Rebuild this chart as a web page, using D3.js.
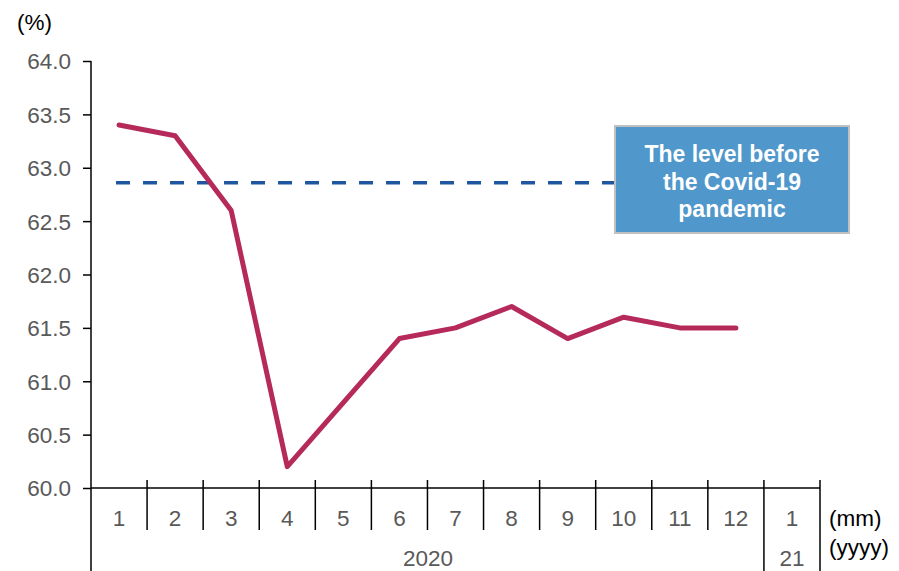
<!DOCTYPE html>
<html>
<head>
<meta charset="utf-8">
<script src="https://cdn.jsdelivr.net/npm/d3@7"></script>
<style>
  html, body { margin: 0; padding: 0; background: #fff; }
  svg { display: block; font-family: "Liberation Sans", Arial, sans-serif; }
</style>
</head>
<body>
<svg id="chart" width="899" height="571"></svg>
<script>
// Monthly values, Jan 2020 – Jan 2021 (no value yet for Jan 2021)
const months = ["1", "2", "3", "4", "5", "6", "7", "8", "9", "10", "11", "12", "1"];
const years = [{ label: "2020", from: 0, to: 12 }, { label: "21", from: 12, to: 13 }];
const rate = [63.4, 63.3, 62.6, 60.2, 60.8, 61.4, 61.5, 61.7, 61.4, 61.6, 61.5, 61.5, null];
const preCovidLevel = 62.86;
const yTicks = [60.0, 60.5, 61.0, 61.5, 62.0, 62.5, 63.0, 63.5, 64.0];
const noteLines = ["The level before", "the Covid-19", "pandemic"];

(function draw() {
  const svg = d3.select("#chart");
  const plotL = 91, plotR = 820, plotT = 61, plotB = 488;
  const tickGray = "#595959";
  const fs = "22.5px";

  const x = d3.scaleBand().domain(d3.range(months.length)).range([plotL, plotR]).paddingInner(0).paddingOuter(0);
  const y = d3.scaleLinear().domain([60, 64]).range([plotB, plotT]);

  // Y axis
  const yAxis = d3.axisLeft(y).tickValues(yTicks).tickFormat(d3.format(".1f")).tickSize(8).tickPadding(12);
  const gy = svg.append("g").attr("transform", `translate(${plotL},0)`).call(yAxis);
  gy.select(".domain").remove();
  gy.selectAll(".tick line").attr("stroke", "#000").attr("stroke-width", 1.5);
  gy.selectAll(".tick text").attr("fill", tickGray).style("font-size", fs)
    .style("font-family", "'Liberation Sans', Arial, sans-serif").attr("dy", "0.35em");
  svg.append("line").attr("x1", plotL).attr("x2", plotL).attr("y1", plotT).attr("y2", 571)
    .attr("stroke", "#000").attr("stroke-width", 1.5);

  svg.append("text").attr("x", 17).attr("y", 30).text("(%)")
    .style("font-size", fs).attr("fill", "#000");

  // X axis baseline and category separators
  svg.append("line").attr("x1", plotL).attr("x2", plotR).attr("y1", plotB).attr("y2", plotB)
    .attr("stroke", "#000").attr("stroke-width", 1.5);

  const sepIdx = d3.range(1, months.length + 1);
  svg.append("g").selectAll("line").data(sepIdx).join("line")
    .attr("x1", i => i < months.length ? x(i) : plotR)
    .attr("x2", i => i < months.length ? x(i) : plotR)
    .attr("y1", 480)
    .attr("y2", i => years.some(yr => yr.from === i || yr.to === i) ? 571 : 530)
    .attr("stroke", "#000").attr("stroke-width", 1.5);

  svg.append("g").selectAll("text").data(months).join("text")
    .attr("x", (d, i) => x(i) + x.bandwidth() / 2)
    .attr("y", 518).attr("dy", "0.35em")
    .attr("text-anchor", "middle").attr("fill", tickGray).style("font-size", fs)
    .text(d => d);

  svg.append("g").selectAll("text").data(years).join("text")
    .attr("x", d => d.label === "2020" ? 428 : (x(d.from) + (d.to < months.length ? x(d.to) : plotR)) / 2)
    .attr("y", 558).attr("dy", "0.35em")
    .attr("text-anchor", "middle").attr("fill", tickGray).style("font-size", fs)
    .text(d => d.label);

  svg.append("text").attr("x", 829).attr("y", 518).attr("dy", "0.35em")
    .style("font-size", fs).attr("fill", "#000").text("(mm)");
  svg.append("text").attr("x", 829).attr("y", 547).attr("dy", "0.35em")
    .style("font-size", fs).attr("fill", "#000").text("(yyyy)");

  // Pre-pandemic reference level
  const cx = i => x(i) + x.bandwidth() / 2;
  svg.append("line")
    .attr("x1", cx(0) - 3).attr("x2", 615)
    .attr("y1", y(preCovidLevel)).attr("y2", y(preCovidLevel))
    .attr("stroke", "#1f56a0").attr("stroke-width", 3.5)
    .attr("stroke-dasharray", "14,13");

  // Monthly series
  const line = d3.line()
    .defined(d => d != null)
    .x((d, i) => cx(i))
    .y(d => y(d));
  svg.append("path").datum(rate)
    .attr("d", line)
    .attr("fill", "none").attr("stroke", "#b52a5b").attr("stroke-width", 5)
    .attr("stroke-linejoin", "round").attr("stroke-linecap", "round");

  // Annotation box
  const box = { x: 615, y: 126, w: 234, h: 107 };
  svg.append("rect").attr("x", box.x).attr("y", box.y).attr("width", box.w).attr("height", box.h)
    .attr("fill", "#5097cb").attr("stroke", "#c0c0c0").attr("stroke-width", 2);
  svg.append("g").selectAll("text").data(noteLines).join("text")
    .attr("x", box.x + box.w / 2)
    .attr("y", (d, i) => 154 + i * 27.5).attr("dy", "0.35em")
    .attr("text-anchor", "middle").attr("fill", "#fff")
    .style("font-size", "23px").style("font-weight", "bold")
    .text(d => d);
})();
</script>
</body>
</html>
